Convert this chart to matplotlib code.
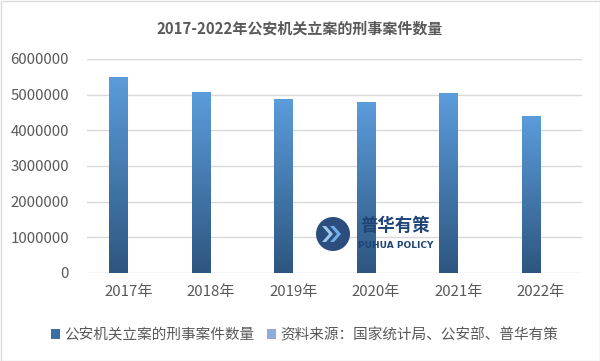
import matplotlib
matplotlib.use("Agg")
import matplotlib.pyplot as plt
import numpy as np
from matplotlib.patches import Patch, Circle, Polygon, Rectangle
from matplotlib.colors import LinearSegmentedColormap

plt.rcParams['font.family'] = ['Noto Sans CJK SC', 'DejaVu Sans']

years = ['2017年', '2018年', '2019年', '2020年', '2021年', '2022年']
cases = [5480000, 5070000, 4860000, 4780000, 5030000, 4400000]
series_name = '公安机关立案的刑事案件数量'
source_name = '资料来源：国家统计局、公安部、普华有策'
title = '2017-2022年公安机关立案的刑事案件数量'
yticks = [0, 1000000, 2000000, 3000000, 4000000, 5000000, 6000000]

TXT = '#595959'
TOP = '#5B9CDB'
BOT = '#2D5680'
SRC = '#8FAADC'

fig = plt.figure(figsize=(6.0, 3.61), dpi=100)
fig.patch.set_facecolor('white')
ax = fig.add_axes([0.145, 0.2438, 0.825, 0.5928])

x = np.arange(len(years))
bars = ax.bar(x - 0.12, cases, width=0.22, color='none', zorder=2)

cmap = LinearSegmentedColormap.from_list('g', [BOT, TOP])
grad = np.linspace(0, 1, 256).reshape(-1, 1)
for b in bars:
    x0, y0, w, h = b.get_x(), b.get_y(), b.get_width(), b.get_height()
    ax.imshow(grad, cmap=cmap, origin='lower', aspect='auto',
              extent=[x0, x0 + w, y0, y0 + h], zorder=2)

ax.set_xlim(-0.5, len(years) - 0.5)
ax.set_ylim(0, 6000000)
ax.set_yticks(yticks)
ax.set_yticklabels([str(v) for v in yticks])
ax.set_xticks(x)
ax.set_xticklabels(years)
ax.tick_params(axis='both', length=0, colors=TXT, labelsize=10.8)
ax.tick_params(axis='y', pad=13)
ax.tick_params(axis='x', pad=9)
ax.grid(axis='y', color='#D9D9D9', linewidth=1, zorder=0)
ax.set_axisbelow(True)
for s in ax.spines.values():
    s.set_visible(False)

fig.text(0.5, 0.922, title, ha='center', va='center', fontsize=10.8,
         fontweight='bold', color=TXT)

handles = [Patch(facecolor='#3A6EA5', edgecolor='none'),
           Patch(facecolor=SRC, edgecolor='none')]
fig.legend(handles, [series_name, source_name], loc='center',
           bbox_to_anchor=(0.508, 0.072), ncol=2, frameon=False,
           fontsize=10.5, labelcolor=TXT, handlelength=0.6, handleheight=0.6,
           handletextpad=0.3, columnspacing=0.9)

# watermark logo
cx, cy = 333, 361 - 234
fig.patches.append(Circle((cx, cy), 17, transform=None, facecolor='#1F4477',
                          edgecolor='none', alpha=0.95, zorder=5))
for dx, col in [(-7, '#9CC8EE'), (1, '#6FAEE6')]:
    px = cx + dx
    py = cy
    pts = [(px - 4, py + 8), (px, py + 8), (px + 7, py), (px, py - 8),
           (px - 4, py - 8), (px + 3, py)]
    fig.patches.append(Polygon(pts, closed=True, transform=None,
                               facecolor=col, edgecolor='none', zorder=6))
fig.text(360 / 600, 1 - 226 / 361, '普华有策', fontsize=12.5, fontweight='bold',
         color='#1F4477', ha='left', va='center', zorder=6)
fig.text(358 / 600, 1 - 245 / 361, 'PUHUA POLICY', fontsize=6.5, fontweight='bold',
         color='#1F4477', ha='left', va='center', zorder=6, family='DejaVu Sans')

fig.patches.append(Rectangle((0.5, 0.5), 599, 360, transform=None, fill=False,
                             edgecolor='#D9D9D9', linewidth=1, zorder=10))

fig.savefig('out.png', dpi=100, facecolor='white')
